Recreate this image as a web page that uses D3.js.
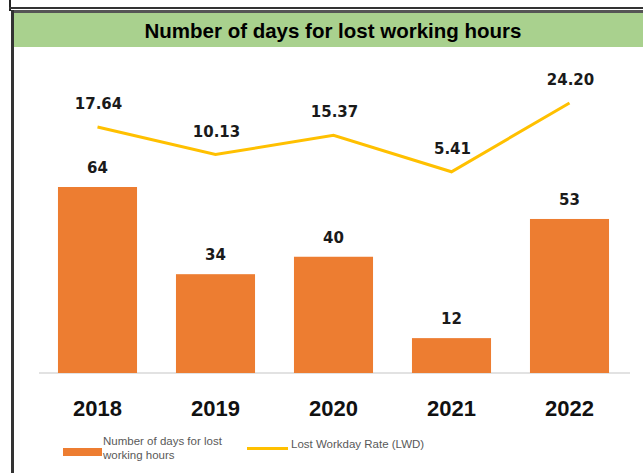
<!DOCTYPE html>
<meta charset="utf-8">
<style>
body { margin: 0; background: #fff; }
.title { font: bold 20.5px "Liberation Sans", sans-serif; fill: #000; }
.val { font: bold 15px "DejaVu Sans", sans-serif; fill: #1a1a1a; }
.year text { font: bold 22px "Liberation Sans", sans-serif; fill: #111; }
.legend text { font: 11.5px "Liberation Sans", sans-serif; fill: #595959; }
</style>
<svg width="643" height="473"></svg>
<script src="https://d3js.org/d3.v7.min.js"></script>
<script>

var years = ["2018", "2019", "2020", "2021", "2022"];
var lostDays = [64, 34, 40, 12, 53];
var lwdRate = [17.64, 10.13, 15.37, 5.41, 24.20];
var lwdLabels = ["17.64", "10.13", "15.37", "5.41", "24.20"];
var titleText = "Number of days for lost working hours";
var legendBar = ["Number of days for lost", "working hours"];
var legendLine = "Lost Workday Rate (LWD)";

var svg = d3.select("svg"),
    width = +svg.attr("width"),
    height = +svg.attr("height");

var orange = "#ed7d31",
    gold = "#ffc000";

// frame + header band
svg.append("rect").attr("x", 9).attr("y", 0).attr("width", 2).attr("height", 11).attr("fill", "#222");
svg.append("rect").attr("x", 9).attr("y", 7).attr("width", width - 9).attr("height", 2).attr("fill", "#333");
svg.append("rect").attr("x", 11).attr("y", 10).attr("width", width - 11).attr("height", 3).attr("fill", "#555");
svg.append("rect").attr("x", 12).attr("y", 13).attr("width", width - 12).attr("height", 34).attr("fill", "#a9d18e");
svg.append("rect").attr("x", 11).attr("y", 10).attr("width", 3).attr("height", height - 10).attr("fill", "#333");

svg.append("text")
    .attr("class", "title")
    .attr("x", 333)
    .attr("y", 38)
    .attr("text-anchor", "middle")
    .text(titleText);

var x = d3.scaleBand()
    .domain(years)
    .range([38.5, 628.5])
    .paddingInner(0.33)
    .paddingOuter(0.165);

var yBar = d3.scaleLinear().domain([0, 64]).range([373, 187]);
var yLine = d3.scaleLinear().domain([0, 24.2]).range([191.6, 103]);

// baseline
svg.append("line")
    .attr("x1", 39).attr("x2", 630)
    .attr("y1", yBar(0)).attr("y2", yBar(0))
    .attr("stroke", "#d9d9d9")
    .attr("stroke-width", 1.5);

svg.append("g")
  .selectAll("rect")
  .data(lostDays)
  .enter().append("rect")
    .attr("x", function(d, i) { return x(years[i]); })
    .attr("y", function(d) { return yBar(d); })
    .attr("width", x.bandwidth())
    .attr("height", function(d) { return yBar(0) - yBar(d); })
    .attr("fill", orange);

svg.append("g")
  .selectAll("text")
  .data(lostDays)
  .enter().append("text")
    .attr("class", "val")
    .attr("x", function(d, i) { return x(years[i]) + x.bandwidth() / 2; })
    .attr("y", function(d) { return yBar(d) - 14; })
    .attr("text-anchor", "middle")
    .text(function(d) { return d; });

var line = d3.line()
    .x(function(d, i) { return x(years[i]) + x.bandwidth() / 2; })
    .y(function(d) { return yLine(d); });

svg.append("path")
    .datum(lwdRate)
    .attr("d", line)
    .attr("fill", "none")
    .attr("stroke", gold)
    .attr("stroke-width", 3);

svg.append("g")
  .selectAll("text")
  .data(lwdRate)
  .enter().append("text")
    .attr("class", "val")
    .attr("x", function(d, i) { return x(years[i]) + x.bandwidth() / 2 + 1; })
    .attr("y", function(d) { return yLine(d) - 18; })
    .attr("text-anchor", "middle")
    .text(function(d, i) { return lwdLabels[i]; });

var axis = svg.append("g")
    .attr("class", "year")
    .attr("transform", "translate(0," + yBar(0) + ")")
    .call(d3.axisBottom(x).tickSize(0).tickPadding(27));
axis.select(".domain").remove();
axis.selectAll("text").attr("fill", "#111");

// legend
var legend = svg.append("g").attr("class", "legend");
legend.append("rect")
    .attr("x", 63).attr("y", 448).attr("width", 39).attr("height", 8)
    .attr("fill", orange);
legend.selectAll("text.lb")
  .data(legendBar)
  .enter().append("text")
    .attr("class", "lb")
    .attr("x", 103)
    .attr("y", function(d, i) { return 445 + i * 13.5; })
    .text(function(d) { return d; });
legend.append("line")
    .attr("x1", 247).attr("x2", 288)
    .attr("y1", 448.5).attr("y2", 448.5)
    .attr("stroke", gold).attr("stroke-width", 3);
legend.append("text")
    .attr("x", 291).attr("y", 448)
    .text(legendLine);

</script>
